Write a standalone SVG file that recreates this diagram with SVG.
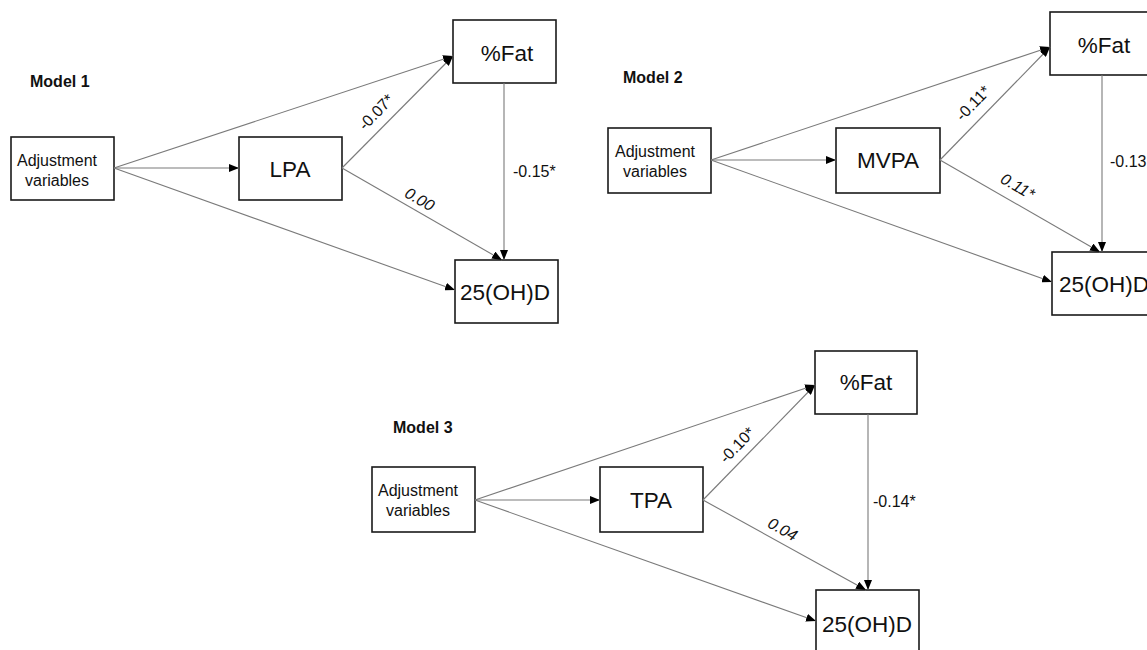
<svg xmlns="http://www.w3.org/2000/svg" width="1147" height="650" viewBox="0 0 1147 650">
  <style>
    .box { fill: #ffffff; stroke: #1a1a1a; stroke-width: 1.6; }
    .edge { fill: none; stroke: #7a7a7a; stroke-width: 1.1; marker-end: url(#tip); }
    .title { font-family: "Liberation Sans", Arial, sans-serif; font-size: 16px; font-weight: bold; fill: #111; }
    .adj { font-family: "Liberation Sans", Arial, sans-serif; font-size: 16px; fill: #111; text-anchor: middle; }
    .name { font-family: "Liberation Sans", Arial, sans-serif; font-size: 22.5px; fill: #111; text-anchor: middle; }
    .coef { font-family: "Liberation Sans", Arial, sans-serif; font-size: 16px; fill: #111; }
    .mid { text-anchor: middle; }
    .slant { font-style: italic; }
  </style>
  <defs>
    <marker id="tip" markerUnits="userSpaceOnUse" markerWidth="10" markerHeight="8" refX="10" refY="4" orient="auto">
      <path d="M0,0 L10,4 L0,8 z" fill="#000"/>
    </marker>
  </defs>
  <rect width="1147" height="650" fill="#ffffff"/>

  <!-- Model 1 -->
  <text class="title" x="30" y="87">Model 1</text>
  <g id="m1-adj">
    <rect class="box" x="11" y="137" width="103" height="63"/>
    <text class="adj" x="57" y="166">Adjustment</text>
    <text class="adj" x="57" y="186">variables</text>
  </g>
  <g id="m1-lpa">
    <rect class="box" x="239" y="137" width="103" height="63"/>
    <text class="name" x="290" y="177">LPA</text>
  </g>
  <g id="m1-fat">
    <rect class="box" x="453" y="20" width="103" height="63"/>
    <text class="name" x="507" y="61">%Fat</text>
  </g>
  <g id="m1-vitd">
    <rect class="box" x="455" y="260" width="103" height="63"/>
    <text class="name" x="505" y="300">25(OH)D</text>
  </g>
  <g id="m1-edges">
    <line class="edge" x1="114" y1="168" x2="239" y2="168"/>
    <line class="edge" x1="114" y1="168" x2="453" y2="56"/>
    <line class="edge" x1="114" y1="168" x2="455" y2="290"/>
    <line class="edge" x1="342" y1="168" x2="453" y2="56"/>
    <line class="edge" x1="342" y1="168" x2="502" y2="260"/>
    <line class="edge" x1="504" y1="83" x2="504" y2="260"/>
    <text class="coef mid" transform="translate(380,116) rotate(-46)">-0.07*</text>
    <text class="coef mid slant" transform="translate(417,204) rotate(30)">0.00</text>
    <text class="coef" x="513" y="177">-0.15*</text>
  </g>

  <!-- Model 2 -->
  <text class="title" x="623" y="83">Model 2</text>
  <g id="m2-adj">
    <rect class="box" x="608" y="128" width="103" height="65"/>
    <text class="adj" x="655" y="157">Adjustment</text>
    <text class="adj" x="655" y="177">variables</text>
  </g>
  <g id="m2-mvpa">
    <rect class="box" x="836" y="128" width="104" height="65"/>
    <text class="name" x="888" y="168">MVPA</text>
  </g>
  <g id="m2-fat">
    <rect class="box" x="1050" y="12" width="104" height="63"/>
    <text class="name" x="1104" y="53">%Fat</text>
  </g>
  <g id="m2-vitd">
    <rect class="box" x="1052" y="252" width="104" height="63"/>
    <text class="name" x="1104" y="292">25(OH)D</text>
  </g>
  <g id="m2-edges">
    <line class="edge" x1="711" y1="160" x2="836" y2="160"/>
    <line class="edge" x1="711" y1="160" x2="1050" y2="47"/>
    <line class="edge" x1="711" y1="160" x2="1052" y2="282"/>
    <line class="edge" x1="940" y1="160" x2="1050" y2="47"/>
    <line class="edge" x1="940" y1="160" x2="1100" y2="252"/>
    <line class="edge" x1="1102" y1="75" x2="1102" y2="252"/>
    <text class="coef mid" transform="translate(977,107) rotate(-46)">-0.11*</text>
    <text class="coef mid slant" transform="translate(1015,191) rotate(30)">0.11*</text>
    <text class="coef" x="1110" y="167">-0.13</text>
  </g>

  <!-- Model 3 -->
  <text class="title" x="393" y="433">Model 3</text>
  <g id="m3-adj">
    <rect class="box" x="372" y="467" width="103" height="65"/>
    <text class="adj" x="418" y="496">Adjustment</text>
    <text class="adj" x="418" y="516">variables</text>
  </g>
  <g id="m3-tpa">
    <rect class="box" x="600" y="467" width="103" height="65"/>
    <text class="name" x="651" y="508">TPA</text>
  </g>
  <g id="m3-fat">
    <rect class="box" x="815" y="351" width="102" height="63"/>
    <text class="name" x="866" y="390">%Fat</text>
  </g>
  <g id="m3-vitd">
    <rect class="box" x="816" y="590" width="103" height="64"/>
    <text class="name" x="867" y="632">25(OH)D</text>
  </g>
  <g id="m3-edges">
    <line class="edge" x1="475" y1="500" x2="600" y2="500"/>
    <line class="edge" x1="475" y1="500" x2="815" y2="385"/>
    <line class="edge" x1="475" y1="500" x2="816" y2="621"/>
    <line class="edge" x1="703" y1="500" x2="815" y2="385"/>
    <line class="edge" x1="703" y1="500" x2="866" y2="590"/>
    <line class="edge" x1="868" y1="414" x2="868" y2="590"/>
    <text class="coef mid" transform="translate(741,449) rotate(-46)">-0.10*</text>
    <text class="coef mid slant" transform="translate(780,534) rotate(29)">0.04</text>
    <text class="coef" x="873" y="507">-0.14*</text>
  </g>
</svg>
